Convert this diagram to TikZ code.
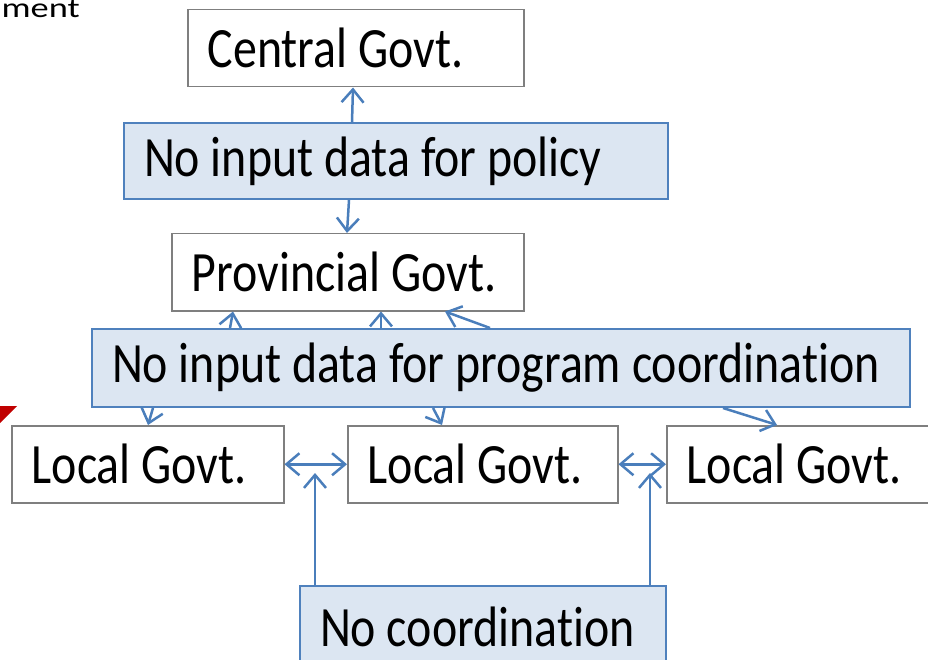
\documentclass[tikz,border=0pt]{standalone}
\usepackage{fontspec}
\setmainfont{Carlito}[FakeStretch=0.84,Ligatures=NoCommon]
\newfontfamily\mentfont{Carlito}[FakeStretch=1.3,Ligatures=NoCommon]
\usetikzlibrary{arrows.meta}
\definecolor{govline}{HTML}{7F7F7F}
\definecolor{probline}{HTML}{4F81BD}
\definecolor{probfill}{HTML}{DCE6F2}
\definecolor{arrcol}{HTML}{4A7EBB}
\definecolor{redmark}{HTML}{C00000}
\begin{document}
\begin{tikzpicture}[x=1pt,y=-1pt,
  boxtext/.style={font=\fontsize{57}{64}\selectfont},
  govbox/.style={draw=govline,line width=1.5pt,fill=white,anchor=north west,inner xsep=20pt,inner ysep=0pt,boxtext},
  probbox/.style={draw=probline,line width=2pt,fill=probfill,anchor=north west,inner xsep=20pt,inner ysep=0pt,boxtext},
  arr/.style={draw=arrcol,line width=2.5pt,-{Straight Barb[length=13pt,width=22pt]}},
  arrb/.style={draw=arrcol,line width=2.5pt,{Straight Barb[length=13pt,width=22pt]}-{Straight Barb[length=13pt,width=22pt]}}]
\useasboundingbox (0,0) rectangle (928,660);
\node[anchor=base east,inner sep=0pt] (ment) at (80,18) {\mentfont\fontsize{28}{34}\selectfont ment};
\fill[redmark] (0,406) -- (17,406) -- (0,423) -- cycle;
\node[govbox,minimum height=77pt] (central) at (187,9) {\makebox[296pt][l]{Central Govt.}};
\node[probbox,minimum height=76pt] (policy) at (123,122) {\makebox[504pt][l]{No input data for policy}};
\node[govbox,minimum height=77pt] (prov) at (171,233) {\makebox[312pt][l]{Provincial Govt.}};
\node[probbox,minimum height=78pt] (prog) at (91,328) {\makebox[778pt][l]{No input data for program coordination}};
\node[govbox,minimum height=77pt] (l1) at (11,425) {\makebox[232pt][l]{Local Govt.}};
\node[govbox,minimum height=77pt] (l2) at (347,425) {\makebox[230pt][l]{Local Govt.}};
\node[govbox,minimum height=77pt] (l3) at (666,425) {\makebox[240pt][l]{Local Govt.}};
\node[probbox,minimum height=82pt] (nocoord) at (299,585) {\makebox[326pt][l]{No coordination}};
\coordinate (h1) at (315,473);
\coordinate (h2) at (650,473);
\draw[arr] (352,0 |- policy.north) -- (353,0 |- central.south);
\draw[arr] (349,0 |- policy.south) -- (347,0 |- prov.north);
\draw[arr] (230,0 |- prog.north) -- (233,0 |- prov.south);
\draw[arr] (381,0 |- prog.north) -- (381,0 |- prov.south);
\draw[arr] (490,0 |- prog.north) -- (445,0 |- prov.south);
\draw[arr] (153,0 |- prog.south) -- (148,0 |- l1.north);
\draw[arr] (433,0 |- prog.south) -- (442,0 |- l2.north);
\draw[arr] (723,0 |- prog.south) -- (777,0 |- l3.north);
\draw[arrb] (l1.east) -- (l2.west);
\draw[arrb] (l2.east) -- (l3.west);
\draw[arr] (315,0 |- nocoord.north) -- (h1);
\draw[arr] (650,0 |- nocoord.north) -- (h2);
\end{tikzpicture}
\end{document}
